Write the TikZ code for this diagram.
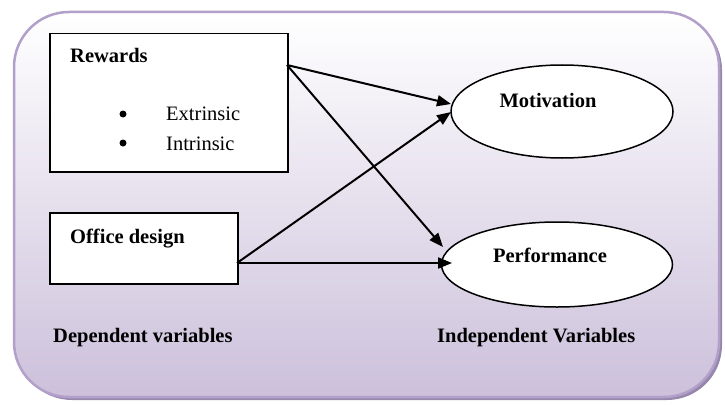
\documentclass[tikz,border=0pt]{standalone}
\usepackage{fontspec}
\setmainfont{Liberation Serif}
\usetikzlibrary{shapes.geometric,arrows.meta,calc}
\definecolor{lavbot}{RGB}{204,192,219}
\definecolor{lavborder}{RGB}{178,160,202}
\definecolor{lavshadow}{RGB}{150,136,172}
\begin{document}
\begin{tikzpicture}[x=1pt,y=-1pt,
  box/.style={draw,line width=1.5pt,fill=white,inner sep=0},
  oval/.style={ellipse,draw,line width=1.5pt,fill=white,inner sep=0},
  lbl/.style={font=\fontsize{20.5}{24}\selectfont\bfseries,inner sep=0},
  txt/.style={font=\fontsize{20.5}{24}\selectfont,inner sep=0},
  dot/.style={circle,fill=black,inner sep=0,minimum size=7pt},
  arr/.style={line width=2pt,-{Triangle[length=14pt,width=11pt]}}]
\useasboundingbox (0,0) rectangle (725,404);
% frame
\fill[lavshadow,rounded corners=55pt] (17,15) rectangle (722,400);
\shade[top color=white,bottom color=lavbot,rounded corners=55pt] (14,12) rectangle (719,397);
\draw[lavborder,line width=2.5pt,rounded corners=55pt] (14,12) rectangle (719,397);
% boxes
\node[box,minimum width=238pt,minimum height=138pt,anchor=north west] (rew) at (49,33) {};
\node[box,minimum width=188pt,minimum height=71pt,anchor=north west] (off) at (49,212) {};
\node[oval,minimum width=222pt,minimum height=93pt] (mot) at (562,111.5) {};
\node[oval,minimum width=231pt,minimum height=85pt] (perf) at (557,264.5) {};
% texts
\node[lbl,anchor=base west] (rewt) at (70,63) {Rewards};
\node[dot] (b1) at (123,114) {};
\node[dot] (b2) at (123,143) {};
\node[txt,anchor=base west] (ext) at (166,120) {Extrinsic};
\node[txt,anchor=base west] (int) at (166,150) {Intrinsic};
\node[lbl,anchor=base west] (offt) at (70,243) {Office design};
\node[lbl,anchor=base] (mott) at (548,107) {Motivation};
\node[lbl,anchor=base] (perft) at (550,262) {Performance};
\node[lbl,anchor=base west] (dep) at (53,342) {Dependent variables};
\node[lbl,anchor=base west] (ind) at (437,342) {Independent Variables};
% connectors
\coordinate (rA) at (287,65);
\coordinate (oA) at (237,263);
\coordinate (mA) at (451,104);
\coordinate (mB) at (451,112);
\coordinate (pA) at (443,247);
\coordinate (pB) at (452,263);
\draw[arr] (rA) -- (mA);
\draw[arr] (rA) -- (pA);
\draw[arr] (oA) -- (mB);
\draw[arr] (oA) -- (pB);
\end{tikzpicture}
\end{document}
